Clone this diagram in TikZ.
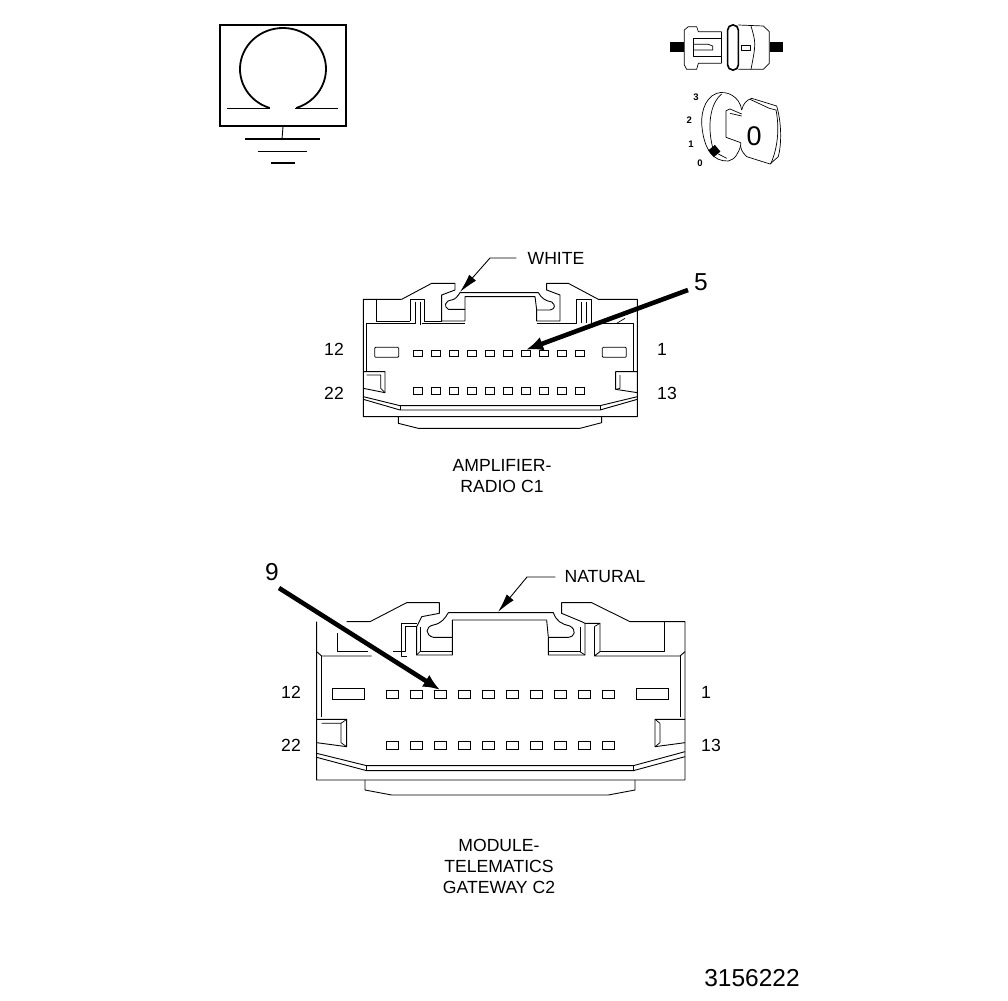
\documentclass[tikz,border=0pt]{standalone}
\usepackage{fontspec}
\setmainfont{Liberation Sans}
\usepackage{tikz}
\usetikzlibrary{arrows.meta, positioning}

\tikzset{
    part/.style={draw, line width=0.9pt, line join=round},
    thinpart/.style={draw, line width=0.7pt, line join=round},
    pinA/.style={draw, rectangle, line width=0.8pt, inner sep=0pt, minimum width=9pt, minimum height=6.5pt},
    pinB/.style={draw, rectangle, line width=0.8pt, inner sep=0pt, minimum width=12pt, minimum height=8pt},
    slotA/.style={draw, rectangle, rounded corners=1pt, line width=0.8pt, inner sep=0pt, minimum width=24pt, minimum height=10pt},
    slotB/.style={draw, rectangle, line width=0.8pt, inner sep=0pt, minimum width=32pt, minimum height=11pt},
    label/.style={inner sep=0pt, font=\fontsize{17.6}{21}\selectfont, align=center},
    keynum/.style={inner sep=0pt, font=\fontsize{9.5}{11}\selectfont\bfseries},
    bignum/.style={inner sep=0pt, font=\fontsize{24.5}{28}\selectfont},
    leader/.style={draw, line width=0.9pt, -{Latex[length=19pt,width=9pt]}},
    heavy/.style={draw, line width=4.6pt, -{Latex[length=17pt,width=14pt]}}
}

\begin{document}
\begin{tikzpicture}[x=1pt, y=-1pt]
    \useasboundingbox (0,0) rectangle (1008,1000);

    % ground symbol
    \node[draw, rectangle, line width=1.4pt, inner sep=0pt, minimum width=126pt, minimum height=101pt] (symbol) at (283,75.5) {};
    \coordinate (gnd) at (282,139);
    \draw[line width=1.8pt] (269.7,108) arc[start angle=108, end angle=432, x radius=43, y radius=41];
    \draw[part] (227,108) -- (270,108);
    \draw[part] (295,108) -- (338,108);
    \draw[part] (symbol.south) -- (gnd);
    \draw[line width=2.4pt] (245,139) -- (gnd) -- (320,139);
    \draw[part] (258,151) -- (307,151);
    \draw[line width=2.4pt] (271,163) -- (295,163);

    % switch
    \begin{scope}[shift={(650,10)}, scale=1/3]
        \fill (60,97) rectangle (103,127);
        \fill (360,97) rectangle (398,127);
        \draw[thinpart] (215,65) -- (145,65) -- (140,50) -- (115,50) -- (103,60) -- (103,165) -- (110,178) -- (140,178) -- (145,160) -- (215,160);
        \draw[thinpart] (215,65) -- (215,160);
        \draw[thinpart] (215,85) -- (130,85) -- (130,140) -- (215,140);
        \draw[thinpart] (130,103) -- (175,103) -- (188,108) -- (188,120) -- (130,120);
        \draw[thinpart] (265,45) -- (340,48) -- (358,65) -- (358,160) -- (340,178) -- (265,178);
        \draw[thinpart] (303,48) .. controls (318,100) .. (303,178);
        \draw[thinpart] (275,105) rectangle (300,120);
        \draw[line width=1.6pt, rounded corners=5pt] (233,45) rectangle (265,180);

        % key
        \draw[thinpart] (275,300) .. controls (270,260) and (230,240) .. (200,250) .. controls (160,265) and (150,320) .. (157,360) .. controls (165,420) and (190,455) .. (235,453) .. controls (255,450) and (268,425) .. (272,405);
        \draw[thinpart] (215,252) .. controls (180,280) and (170,350) .. (190,420);
        \draw[thinpart] (275,312) -- (240,297) -- (228,302) -- (228,382) -- (272,398);
        \draw[thinpart] (240,310) -- (275,318);
        \draw[thinpart] (275,300) .. controls (280,280) and (290,270) .. (305,265) -- (380,288) .. controls (395,340) and (395,400) .. (385,440) -- (360,462) -- (290,440) .. controls (275,425) and (270,415) .. (272,398);
        \draw[thinpart] (300,268) -- (358,295) -- (378,300) .. controls (388,350) and (385,410) .. (362,462);
        \fill[rotate around={40:(193,423)}] (180,410) rectangle (206,436);
        \draw[thinpart] (205,432) -- (230,445);
        \node[inner sep=0pt, font=\fontsize{27}{30}\selectfont] (keyzero) at (312,378) {0};
        \node[keynum] (n3) at (138,262) {3};
        \node[keynum] (n2) at (118,332) {2};
        \node[keynum] (n1) at (123,403) {1};
        \node[keynum] (n0) at (150,460) {0};
    \end{scope}

    % amplifier radio connector
    \begin{scope}[shift={(350,240)}, scale=1/3]
        \draw[part] (155,178) -- (40,178) -- (40,530) -- (862,530) -- (862,178) -- (745,178) -- (655,130) -- (590,130) -- (590,150) -- (630,165) -- (630,243) -- (560,243) -- (560,210);
        \draw[part] (155,178) -- (245,130) -- (315,130) -- (315,150) -- (275,165) -- (275,243) -- (345,243) -- (345,208) -- (295,208) .. controls (280,200) and (285,182) .. (305,180) .. controls (318,178) and (325,165) .. (330,158) -- (565,158) .. controls (575,175) and (585,182) .. (605,186) .. controls (618,195) and (615,208) .. (600,210) -- (560,210);
        \draw[part] (345,208) -- (345,170) -- (555,170) -- (560,210);
        \draw[part] (80,178) -- (80,243) -- (180,243);
        \draw[part] (180,178) -- (180,243);
        \draw[part] (182,178) -- (222,178) -- (222,243) -- (275,243);
        \draw[thinpart] (195,185) -- (195,250) -- (50,250) -- (50,392);
        \draw[thinpart] (212,185) -- (212,255);
        \draw[part] (215,250) -- (345,250);
        \draw[part] (560,250) -- (680,250) -- (680,178) -- (725,178) -- (725,250) -- (850,250) -- (850,392);
        \draw[thinpart] (695,185) -- (695,250);
        \draw[thinpart] (710,185) -- (710,250);
        \draw[thinpart] (800,250) -- (825,235);
        \draw[part] (40,395) -- (105,395) -- (105,458) -- (40,445);
        \draw[thinpart] (50,405) -- (92,405) -- (92,445) -- (105,458);
        \draw[part] (862,395) -- (797,395) -- (797,448) -- (862,458);
        \draw[thinpart] (810,405) -- (810,445) -- (797,448);
        \draw[part] (40,470) -- (150,497) -- (750,497) -- (862,470);
        \draw[part] (40,478) -- (150,510) -- (750,510) -- (862,478);
        \draw[part] (150,497) -- (150,510);
        \draw[part] (750,497) -- (750,510);
        \draw[part] (145,530) -- (145,550) -- (205,565) -- (690,565) -- (755,548) -- (755,530);
        \node[slotA] (ampB1) at (110,337) {};
        \node[slotA] (ampB12) at (793,337) {};
        \foreach \i in {1,...,10} {
            \node[pinA] (ampT\i) at ({690-53.9*(\i-1)},340) {};
            \node[pinA] (ampL\i) at ({690-53.9*(\i-1)},452) {};
        }
    \end{scope}

    \node[label] (white) at (556,258) {WHITE};
    \coordinate (whitebend) at (490,258);
    \coordinate (whitetip) at (460,292);
    \draw[leader] (white.west) ++(-11,0) -- (whitebend) -- (whitetip);
    \node[bignum] (five) at (701,282) {5};
    \draw[heavy] (688,290) -- (ampT4.north);
    \node[label] (a12) at (334,349) {12};
    \node[label] (a1) at (662,349) {1};
    \node[label] (a22) at (334,393) {22};
    \node[label] (a13) at (667,393) {13};
    \node[label] (ampname) at (502,476) {AMPLIFIER-\\RADIO C1};

    % telematics connector
    \begin{scope}[shift={(305,560)}, scale=1/3]
        \draw[part] (35,185) -- (35,660) -- (1140,660) -- (1140,185) -- (975,185) -- (860,128) -- (770,128) -- (770,160) -- (830,185) -- (840,190) -- (840,285) -- (730,285) -- (730,232);
        \draw[part] (125,185) -- (195,185) -- (305,128) -- (403,128) -- (403,160) -- (350,170) -- (335,200) -- (335,285) -- (442,285) -- (442,232) -- (385,232) .. controls (360,225) and (360,200) .. (385,195) .. controls (410,190) and (420,175) .. (430,158) -- (745,158) .. controls (755,185) and (770,192) .. (795,198) .. controls (815,210) and (810,230) .. (790,232) -- (730,232);
        \draw[part] (442,232) -- (442,180) -- (725,180) -- (730,232);
        \draw[part] (97,220) -- (97,275) -- (190,275);
        \draw[thinpart] (265,275) -- (300,275) -- (300,200) -- (335,200);
        \draw[part] (335,190) -- (290,190) -- (290,288) -- (305,288);
        \draw[part] (200,288) -- (50,288) -- (35,275);
        \draw[part] (50,288) -- (50,470);
        \draw[thinpart] (345,200) -- (345,275) -- (442,275);
        \draw[thinpart] (345,275) -- (335,285);
        \draw[thinpart] (825,200) -- (825,275) -- (730,275);
        \draw[thinpart] (825,275) -- (840,285);
        \draw[part] (840,190) -- (885,190) -- (885,275) -- (868,288) -- (1125,288) -- (1140,275);
        \draw[thinpart] (868,200) -- (868,288);
        \draw[thinpart] (868,200) -- (885,190);
        \draw[part] (885,275) -- (1078,275) -- (1078,185);
        \draw[part] (1125,288) -- (1125,470);
        \draw[part] (35,478) -- (125,478) -- (125,560) -- (35,548);
        \draw[thinpart] (50,490) -- (108,490) -- (108,548) -- (125,560);
        \draw[thinpart] (108,490) -- (125,478);
        \draw[part] (1140,478) -- (1050,478) -- (1050,560) -- (1140,548);
        \draw[thinpart] (1065,490) -- (1065,548) -- (1050,560);
        \draw[thinpart] (1065,490) -- (1050,478);
        \draw[part] (35,580) -- (185,617) -- (985,617) -- (1140,575);
        \draw[part] (35,592) -- (185,632) -- (985,632) -- (1140,590);
        \draw[part] (185,617) -- (185,632);
        \draw[part] (985,617) -- (985,632);
        \draw[part] (180,660) -- (180,690) -- (260,705) -- (910,705) -- (990,690) -- (990,660);
        \node[slotB] (telB12) at (130,402) {};
        \node[slotB] (telB1) at (1043,402) {};
        \foreach \i in {1,...,10} {
            \node[pinB] (telT\i) at ({261+72.2*(\i-1)},403) {};
            \node[pinB] (telL\i) at ({261+72.2*(\i-1)},557) {};
        }
    \end{scope}

    \node[label] (natural) at (605,577) {NATURAL};
    \coordinate (naturalbend) at (527,577);
    \coordinate (naturaltip) at (498,612);
    \draw[leader] (natural.west) ++(-9,0) -- (naturalbend) -- (naturaltip);
    \node[bignum] (nine) at (272,572) {9};
    \draw[heavy] (279,588) -- (telT3.north);
    \node[label] (b12) at (291,692) {12};
    \node[label] (b1) at (706,692) {1};
    \node[label] (b22) at (291,745) {22};
    \node[label] (b13) at (711,745) {13};
    \node[label] (telname) at (499,866) {MODULE-\\TELEMATICS\\GATEWAY C2};

    \node[bignum] (partno) at (752,978) {3156222};
\end{tikzpicture}
\end{document}
